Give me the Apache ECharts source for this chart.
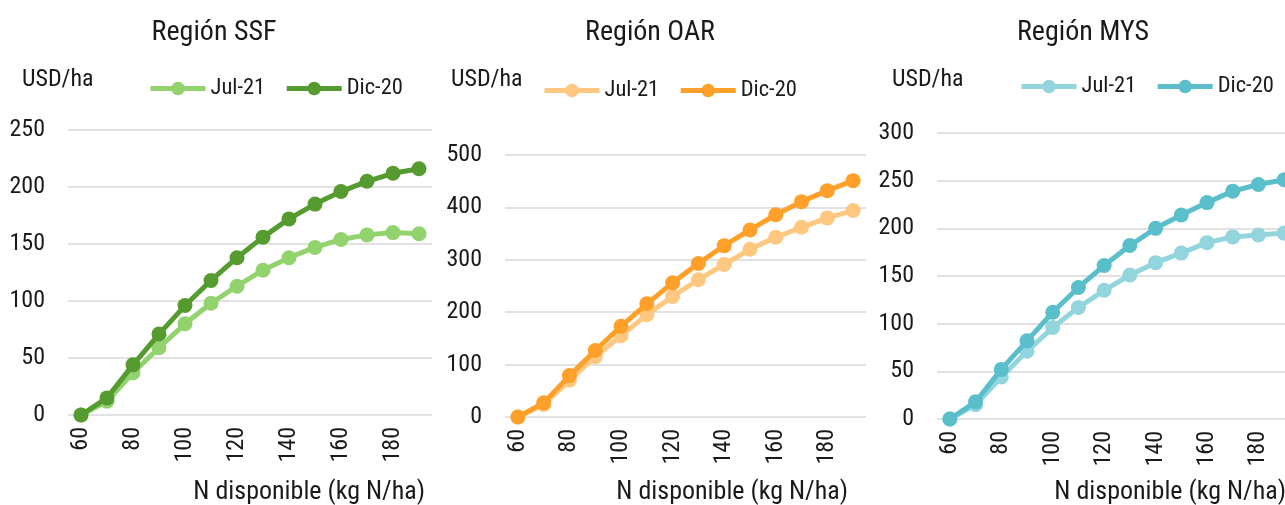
<!DOCTYPE html>
<html>
<head>
<meta charset="utf-8">
<script src="https://cdn.jsdelivr.net/npm/echarts@6/dist/echarts.min.js"></script>
<style>
  html, body { margin: 0; padding: 0; background: #ffffff; }
  #chart { width: 1285px; height: 505px; }
</style>
</head>
<body>
<div id="chart"></div>
<script>
// Nitrogen available (kg N/ha) on the shared x axis
const nLevels = [60, 70, 80, 90, 100, 110, 120, 130, 140, 150, 160, 170, 180, 190];
const seriesNames = ['Jul-21', 'Dic-20'];

// Región SSF (USD/ha)
const ssfJul21 = [0, 12, 37, 59, 80, 98, 113, 127, 138, 147, 154, 158, 160, 159];
const ssfDic20 = [0, 15, 44, 71, 96, 118, 138, 156, 172, 185, 196, 205, 212, 216];
const ssfTicks = [0, 50, 100, 150, 200, 250];

// Región OAR (USD/ha)
const oarJul21 = [0, 24, 70, 115, 155, 195, 230, 262, 291, 320, 343, 362, 380, 394];
const oarDic20 = [0, 27, 79, 127, 173, 216, 256, 293, 327, 357, 386, 411, 432, 451];
const oarTicks = [0, 100, 200, 300, 400, 500];

// Región MYS (USD/ha)
const mysJul21 = [0, 15, 44, 71, 96, 117, 135, 151, 164, 174, 185, 191, 193, 195];
const mysDic20 = [0, 18, 52, 82, 112, 138, 161, 182, 200, 214, 227, 239, 246, 251];
const mysTicks = [0, 50, 100, 150, 200, 250, 300];

const FONT = "'Roboto Condensed', 'Liberation Sans Narrow', 'Arial Narrow', Roboto, sans-serif";
const TEXT = '#1a1a1a';

const panels = [
  { title: 'Región SSF', data: [ssfJul21, ssfDic20], ticks: ssfTicks,
    colors: ['#92d36e', '#559b2f'],
    grid: { left: 68, top: 130, width: 364, height: 285 },
    titleX: 214, unitX: 22, legendLeft: 148, legendTop: 77, nameRight: 425 },
  { title: 'Región OAR', data: [oarJul21, oarDic20], ticks: oarTicks,
    colors: ['#ffc880', '#ffa02a'],
    grid: { left: 505, top: 155, width: 361, height: 262 },
    titleX: 650, unitX: 451, legendLeft: 542, legendTop: 79, nameRight: 848 },
  { title: 'Región MYS', data: [mysJul21, mysDic20], ticks: mysTicks,
    colors: ['#92d5dc', '#5bbfcb'],
    grid: { left: 937, top: 133, width: 360, height: 286 },
    titleX: 1083, unitX: 892, legendLeft: 1019, legendTop: 75, nameRight: 1286 }
];

const option = {
  animation: false,
  backgroundColor: '#ffffff',
  grid: [], xAxis: [], yAxis: [], legend: [], series: [], graphic: []
};

panels.forEach((p, i) => {
  option.grid.push(Object.assign({ containLabel: false, outerBoundsMode: 'none' }, p.grid));

  option.xAxis.push({
    type: 'category',
    gridIndex: i,
    data: nLevels.map(String),
    boundaryGap: true,
    axisLine: { show: false },
    axisTick: { show: false },
    axisLabel: {
      interval: 1, rotate: 90, margin: 12,
      fontFamily: FONT, fontSize: 24, color: TEXT
    }
  });

  const t = p.ticks;
  option.yAxis.push({
    type: 'value',
    gridIndex: i,
    min: t[0], max: t[t.length - 1], interval: t[1] - t[0],
    axisLine: { show: false },
    axisTick: { show: false },
    splitLine: { lineStyle: { color: '#d9d9d9', width: 1.5 } },
    axisLabel: { margin: 23, fontFamily: FONT, fontSize: 24, color: TEXT }
  });

  option.legend.push({
    left: p.legendLeft, top: p.legendTop,
    padding: 0,
    itemWidth: 55, itemHeight: 17, itemGap: 19,
    textStyle: { fontFamily: FONT, fontSize: 22.5, color: TEXT },
    data: seriesNames.map((name, k) => ({
      name: name,
      itemStyle: { color: p.colors[k] },
      lineStyle: { color: p.colors[k], width: 5 }
    }))
  });

  seriesNames.forEach((name, k) => {
    option.series.push({
      type: 'line',
      name: name,
      xAxisIndex: i, yAxisIndex: i,
      data: p.data[k],
      symbol: 'circle', symbolSize: 15,
      lineStyle: { color: p.colors[k], width: 5 },
      itemStyle: { color: p.colors[k] },
      z: 2 + k
    });
  });

  option.graphic.push(
    { type: 'text', x: p.titleX, y: 33,
      style: { text: p.title, font: '28px ' + FONT, fill: TEXT, align: 'center', verticalAlign: 'middle' } },
    { type: 'text', x: p.unitX, y: 80,
      style: { text: 'USD/ha', font: '24px ' + FONT, fill: TEXT, align: 'left', verticalAlign: 'middle' } },
    { type: 'text', x: p.nameRight, y: 492,
      style: { text: 'N disponible (kg N/ha)', font: '26px ' + FONT, fill: TEXT, align: 'right', verticalAlign: 'middle' } }
  );
});

const chart = echarts.init(document.getElementById('chart'), null, { renderer: 'canvas' });
chart.setOption(option);
</script>
</body>
</html>
